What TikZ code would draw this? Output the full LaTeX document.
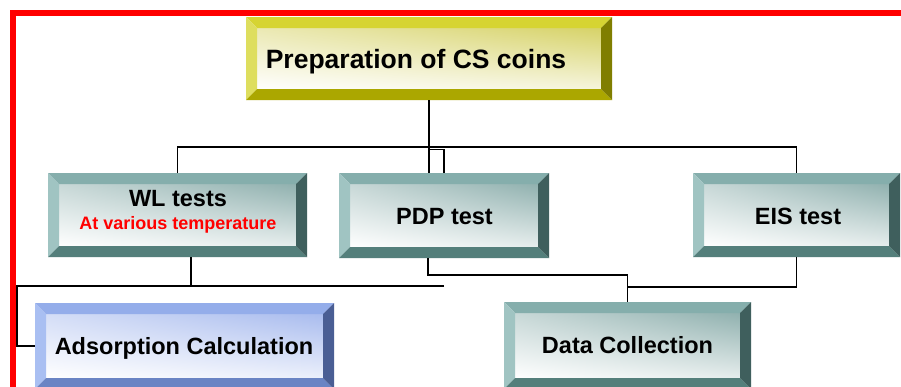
\documentclass[tikz,border=0pt]{standalone}
\usepackage{fontspec}
\setmainfont{Liberation Sans}
\usetikzlibrary{shadings}
\definecolor{tealT}{HTML}{85AEAC}
\definecolor{tealL}{HTML}{A0C4C2}
\definecolor{tealB}{HTML}{547F7B}
\definecolor{tealR}{HTML}{3F5F5D}
\definecolor{tealF}{HTML}{8FB0AE}
\definecolor{yelT}{HTML}{D6D432}
\definecolor{yelL}{HTML}{DEDE5E}
\definecolor{yelB}{HTML}{ABA700}
\definecolor{yelR}{HTML}{807E00}
\definecolor{yelF}{HTML}{D6D266}
\definecolor{bluT}{HTML}{94ADEA}
\definecolor{bluL}{HTML}{A9BFF2}
\definecolor{bluB}{HTML}{6A84C4}
\definecolor{bluR}{HTML}{4A5E94}
\definecolor{bluF}{HTML}{A8BBEE}
\definecolor{frame}{HTML}{FF0000}
\definecolor{redtxt}{HTML}{FF0000}
\newcommand\bevbox[6]{%
  \node[inner sep=0pt, outer sep=0pt, minimum width={(#4-#2)*1pt}, minimum height={(#5-#3)*1pt}] (#1) at ({(#2+#4)/2},{(#3+#5)/2}) {};
  \shade[upper left=#6F!50!white, upper right=#6F, lower left=white, lower right=#6F!22!white]
    ([xshift=10pt,yshift=-10pt]#1.north west) rectangle ([xshift=-10pt,yshift=10pt]#1.south east);
  \fill[#6T] (#1.north west) -- (#1.north east) -- ([xshift=-11pt,yshift=-11pt]#1.north east) -- ([xshift=11pt,yshift=-11pt]#1.north west) -- cycle;
  \fill[#6L] (#1.north west) -- ([xshift=11pt,yshift=-11pt]#1.north west) -- ([xshift=11pt,yshift=11pt]#1.south west) -- (#1.south west) -- cycle;
  \fill[#6B] (#1.south west) -- (#1.south east) -- ([xshift=-11pt,yshift=11pt]#1.south east) -- ([xshift=11pt,yshift=11pt]#1.south west) -- cycle;
  \fill[#6R] (#1.north east) -- (#1.south east) -- ([xshift=-11pt,yshift=11pt]#1.south east) -- ([xshift=-11pt,yshift=-11pt]#1.north east) -- cycle;
}
\tikzset{
  lab/.style={anchor=base, inner sep=0pt, font=\fontsize{23.5}{28}\selectfont\bfseries, text=black},
  titlelab/.style={lab, font=\fontsize{26.5}{32}\selectfont\bfseries},
  sublab/.style={lab, font=\fontsize{18}{22}\selectfont\bfseries, text=redtxt},
  conn/.style={draw=black, line width=1.8pt},
}
\begin{document}
\begin{tikzpicture}[x=1pt,y=-1pt]
\useasboundingbox (0,0) rectangle (901,386);
\clip (0,0) rectangle (901,386);
\fill[white] (0,0) rectangle (901,386);
% red frame
\draw[frame, line width=5.5pt] (13,400) -- (13,13) -- (920,13);
% boxes
\bevbox{top}{246}{17}{612}{100}{yel}
\bevbox{wl}{48}{173}{307}{257}{teal}
\bevbox{pdp}{339}{173}{549}{258}{teal}
\bevbox{eis}{693}{173}{900}{257}{teal}
\bevbox{ads}{35}{303}{334}{389}{blu}
\bevbox{dc}{504}{302}{751}{389}{teal}
% labels
\node[titlelab] (toplab) at (416,68.5) {Preparation of CS coins};
\node[lab] (wllab) at (178,206.5) {WL tests};
\node[sublab] (wlsub) at (178,229) {At various temperature};
\node[lab] (pdplab) at (444.5,224.5) {PDP test};
\node[lab] (eislab) at (798,224) {EIS test};
\node[lab] (adslab) at (184,354) {Adsorption Calculation};
\node[lab] (dclab) at (627.5,353) {Data Collection};
% connectors
\coordinate (bar) at (429,147);
\coordinate (bar2) at (429,149.5);
\draw[conn] (top.south) -- (bar) -- (bar |- pdp.north);
\draw[conn] (wl.north) |- (bar) -| (eis.north);
\draw[conn] (bar2) -| (pdp.north);
\coordinate (wlout) at (191,257);
\coordinate (b2l) at (17,286);
\coordinate (b2r) at (444,286);
\draw[conn] (wlout) -- (wlout |- b2l);
\draw[conn] (b2r) -- (b2l) |- (ads.west);
\coordinate (pdpout) at (428,258);
\draw[conn] (pdpout) |- (dc.north |- 0,275) -- (dc.north);
\draw[conn] (eis.south) |- (dc.north |- 0,287);
\end{tikzpicture}
\end{document}
